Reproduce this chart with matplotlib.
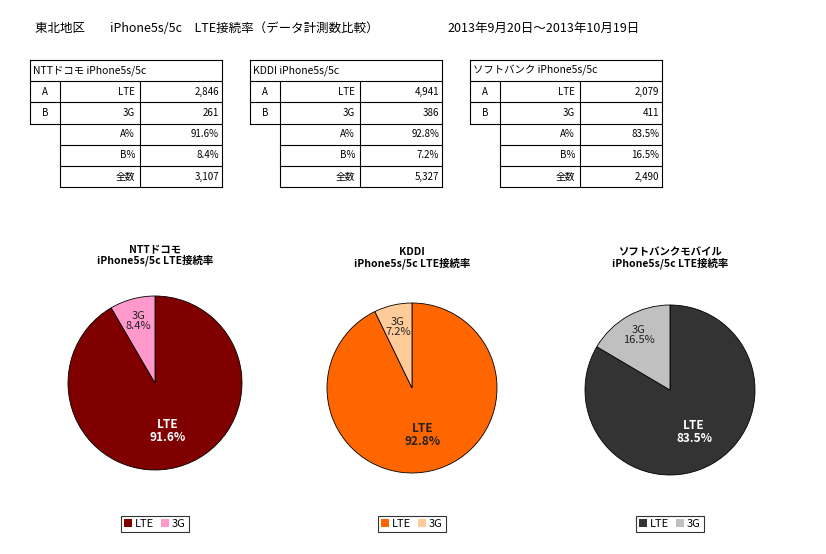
import matplotlib
matplotlib.use("Agg")
import matplotlib.pyplot as plt
from matplotlib.patches import Patch

plt.rcParams['font.family'] = ['Noto Sans CJK JP', 'DejaVu Sans']

W, H = 826, 554
carriers = ["NTTドコモ", "KDDI", "ソフトバンク"]
pie_titles = ["NTTドコモ\niPhone5s/5c LTE接続率", "KDDI\niPhone5s/5c LTE接続率",
              "ソフトバンクモバイル\niPhone5s/5c LTE接続率"]
lte_counts = [2846, 4941, 2079]
g3_counts = [261, 386, 411]
lte_pct = [91.6, 92.8, 83.5]
g3_pct = [8.4, 7.2, 16.5]
totals = [3107, 5327, 2490]
lte_colors = ["#800000", "#ff6600", "#333333"]
g3_colors = ["#ff99cc", "#ffcc99", "#c0c0c0"]
lte_text_colors = ["white", "#222222", "white"]

fig = plt.figure(figsize=(W/100, H/100), dpi=100)
ov = fig.add_axes([0, 0, 1, 1])
ov.set_xlim(0, W); ov.set_ylim(H, 0); ov.axis('off')

ov.text(35, 28, "東北地区　　iPhone5s/5c　LTE接続率（データ計測数比較）", fontsize=9, va='center')
ov.text(447, 28, "2013年9月20日～2013年10月19日", fontsize=9, va='center')

def line(x0, y0, x1, y1):
    ov.plot([x0, x1], [y0, y1], color='black', lw=0.8)

table_x = [30, 250, 470]
rh = 21.2
for i, x0 in enumerate(table_x):
    y0 = 60
    xa, xb, xc, xe = x0, x0 + 30, x0 + 110, x0 + 192
    # header
    line(xa, y0, xe, y0)
    ov.text(xa + 3, y0 + rh/2, f"{carriers[i]} iPhone5s/5c", fontsize=7.5, va='center')
    rows1 = [("A", "LTE", f"{lte_counts[i]:,}"), ("B", "3G", f"{g3_counts[i]:,}")]
    for k, (a, b, c) in enumerate(rows1):
        yt = y0 + rh*(k+1)
        line(xa, yt, xe, yt)
        ov.text(xa + 15, yt + rh/2, a, fontsize=7, ha='center', va='center')
        ov.text(xc - 5, yt + rh/2, b, fontsize=7, ha='right', va='center')
        ov.text(xe - 3, yt + rh/2, c, fontsize=7, ha='right', va='center')
    line(xa, y0, xa, y0 + 3*rh)
    line(xb, y0 + rh, xb, y0 + 6*rh)
    line(xc, y0 + rh, xc, y0 + 6*rh)
    line(xe, y0, xe, y0 + 6*rh)
    rows2 = [("A%", f"{lte_pct[i]}%"), ("B%", f"{g3_pct[i]}%"), ("全数", f"{totals[i]:,}")]
    for k, (b, c) in enumerate(rows2):
        yt = y0 + rh*(k+3)
        line(xa if k == 0 else xb, yt, xe, yt)
        ov.text(xc - 5, yt + rh/2, b, fontsize=7, ha='right', va='center')
        ov.text(xe - 3, yt + rh/2, c, fontsize=7, ha='right', va='center')
    line(xb, y0 + 6*rh, xe, y0 + 6*rh)

centers = [(155, 383), (412, 388), (670, 390)]
radii = [87, 85, 85]
title_y = [255, 258, 258]
for i, ((cx, cy), r) in enumerate(zip(centers, radii)):
    ax = fig.add_axes([(cx - r)/W, 1 - (cy + r)/H, 2*r/W, 2*r/H])
    vals = [lte_pct[i], g3_pct[i]]
    ax.pie(vals, colors=[lte_colors[i], g3_colors[i]], startangle=90, counterclock=False,
           wedgeprops=dict(edgecolor='black', linewidth=0.6))
    ax.set_xlim(-1, 1); ax.set_ylim(-1, 1); ax.set_aspect('auto')
    import math
    a3 = math.radians(90 + g3_pct[i]*1.8)
    al = math.radians(90 - lte_pct[i]*1.8)
    ax.text(0.74*math.cos(a3), 0.74*math.sin(a3), f"3G\n{g3_pct[i]}%", ha='center', va='center',
            fontsize=8, color='#222222', linespacing=1.0)
    ax.text(0.57*math.cos(al), 0.57*math.sin(al), f"LTE\n{lte_pct[i]}%", ha='center', va='center',
            fontsize=8.5, color=lte_text_colors[i], fontweight='bold', linespacing=1.0)
    ov.text(cx, title_y[i], pie_titles[i], ha='center', va='center', fontsize=7.5,
            fontweight='bold', linespacing=1.1)
    leg = fig.legend(handles=[Patch(facecolor=lte_colors[i], label='LTE'),
                              Patch(facecolor=g3_colors[i], label='3G')],
                     loc='center', bbox_to_anchor=(cx/W, 1 - 524/H), ncol=2, fontsize=8,
                     frameon=True, fancybox=False, edgecolor='black', handlelength=0.7,
                     handleheight=0.7, handletextpad=0.3, columnspacing=0.6,
                     borderpad=0.3, borderaxespad=0)
    leg.get_frame().set_linewidth(0.8)

fig.savefig("out.png", dpi=100, facecolor='white')
